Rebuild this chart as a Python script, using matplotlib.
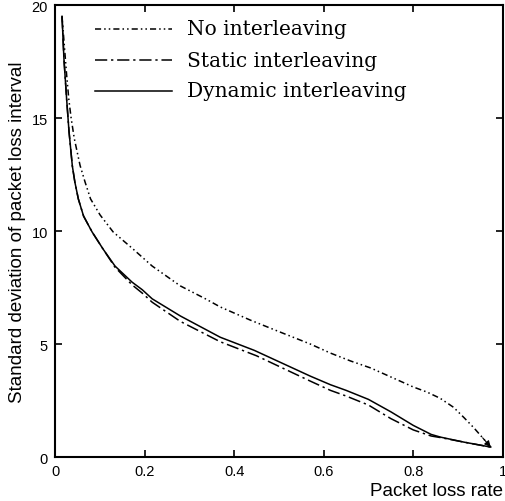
import matplotlib
matplotlib.use("Agg")
import matplotlib.pyplot as plt

# Data
no_x = [0.0157, 0.026, 0.031, 0.036, 0.043, 0.056, 0.0671, 0.0794, 0.1007, 0.1298, 0.1745,
        0.217, 0.28, 0.336, 0.369, 0.436, 0.5, 0.57, 0.615, 0.66, 0.705, 0.8, 0.83, 0.86,
        0.89, 0.913, 0.935, 0.955, 0.973]
no_y = [19.5, 16.9, 15.8, 15.0, 14.1, 12.9, 12.17, 11.42, 10.71, 9.96, 9.2,
        8.45, 7.57, 7.0, 6.64, 6.06, 5.55, 5.0, 4.6, 4.25, 3.94, 3.1, 2.88, 2.6,
        2.2, 1.75, 1.3, 0.85, 0.44]

dyn_x = [0.0157, 0.020, 0.0261, 0.0313, 0.0387, 0.0443, 0.0521, 0.0638, 0.0828, 0.1074,
         0.134, 0.172, 0.195, 0.217, 0.28, 0.369, 0.445, 0.57, 0.615, 0.65, 0.7, 0.75,
         0.8, 0.84, 0.861, 0.913, 0.973]
dyn_y = [19.5, 17.6, 15.8, 14.4, 12.88, 12.17, 11.42, 10.66, 9.96, 9.2,
         8.45, 7.74, 7.4, 7.0, 6.24, 5.3, 4.72, 3.58, 3.2, 2.95, 2.55, 2.0,
         1.4, 1.0, 0.88, 0.66, 0.44]

sta_x = [0.0157, 0.020, 0.0261, 0.0313, 0.0387, 0.0443, 0.0521, 0.0638, 0.0828, 0.1074,
         0.134, 0.172, 0.195, 0.217, 0.28, 0.369, 0.45, 0.57, 0.615, 0.65, 0.7, 0.75,
         0.8, 0.84, 0.861, 0.913, 0.973]
sta_y = [19.5, 17.6, 15.8, 14.4, 12.88, 12.17, 11.42, 10.66, 9.96, 9.2,
         8.4, 7.62, 7.25, 6.85, 6.0, 5.1, 4.48, 3.36, 2.95, 2.7, 2.3, 1.7,
         1.2, 0.93, 0.86, 0.66, 0.44]

x_ticks = [0, 0.2, 0.4, 0.6, 0.8, 1]
x_labels = ["0", "0.2", "0.4", "0.6", "0.8", "1"]
y_ticks = [0, 5, 10, 15, 20]
y_labels = ["0", "5", "10", "15", "20"]

labels = ["No interleaving", "Static interleaving", "Dynamic interleaving"]

fig = plt.figure(figsize=(5.06, 5.02), dpi=100)
ax = fig.add_axes([0.1087, 0.0876, 0.885, 0.9004])

lw = 1.1
styles = [dict(dashes=[4, 2, 1, 2, 1, 2]), dict(dashes=[8, 2.5, 1.5, 2.5]), dict(linestyle="-")]
series = [(no_x, no_y), (sta_x, sta_y), (dyn_x, dyn_y)]
for (xs, ys), st in zip(series, styles):
    ax.plot(xs, ys, color="black", lw=lw, **st)

ax.annotate("", xy=(no_x[-1], no_y[-1]), xytext=(no_x[-2], no_y[-2]),
            arrowprops=dict(arrowstyle="-|>", color="black", lw=0.8,
                            mutation_scale=9, shrinkA=0, shrinkB=0))

# legend drawn manually in axes coordinates
rows = [0.947, 0.878, 0.810]
for lab, st, yr in zip(labels, styles, rows):
    ax.plot([0.089, 0.261], [yr, yr], transform=ax.transAxes, color="black", lw=lw, **st)
    ax.text(0.295, yr, lab, transform=ax.transAxes, va="center", ha="left",
            family="DejaVu Serif", fontsize=14.5)

ax.set_xlim(0, 1)
ax.set_ylim(0, 20)
ax.set_xticks(x_ticks)
ax.set_xticklabels(x_labels)
ax.set_yticks(y_ticks)
ax.set_yticklabels(y_labels)
ax.tick_params(direction="in", length=5, width=1.2, top=True, right=True,
               labelsize=10.5, pad=5)
for lab in ax.get_xticklabels() + ax.get_yticklabels():
    lab.set_fontfamily("Liberation Sans")
for s in ax.spines.values():
    s.set_linewidth(1.5)

ax.set_ylabel("Standard deviation of packet loss interval", fontsize=13.5,
              family="Liberation Sans", labelpad=4)
ax.set_xlabel("Packet loss rate", fontsize=13.5, family="Liberation Sans")
ax.xaxis.set_label_coords(1.0, -0.055)
ax.xaxis.label.set_horizontalalignment("right")

fig.savefig("out.png", dpi=100)
